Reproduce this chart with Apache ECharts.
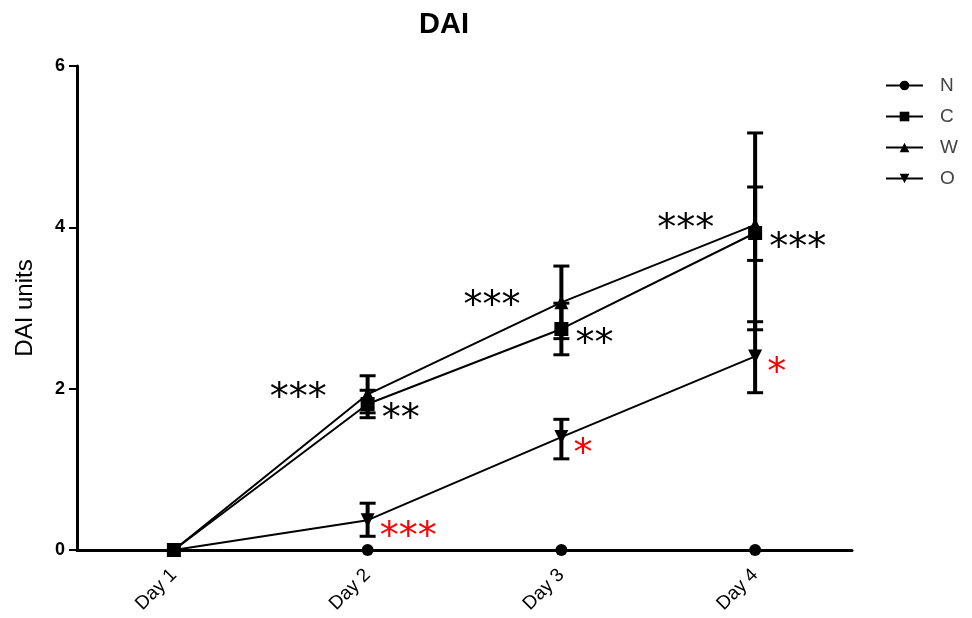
<!DOCTYPE html>
<html>
<head>
<meta charset="utf-8">
<script src="https://cdn.jsdelivr.net/npm/echarts@6/dist/echarts.min.js"></script>
<style>
html, body { margin: 0; padding: 0; background: #fff; }
#main { width: 972px; height: 618px; }
</style>
</head>
<body>
<div id="main"></div>
<script>
// categories and values
var days = ['Day 1', 'Day 2', 'Day 3', 'Day 4'];
var nMean = [0, 0, 0, 0];
var cMean = [0, 1.81, 2.74, 3.93];
var wMean = [0, 1.93, 3.07, 4.03];
var oMean = [0, 0.37, 1.40, 2.40];

// error bar ends (low / high)
var cLow = [0, 1.64, 2.42, 3.59];
var cHigh = [0, 1.98, 3.06, 4.50];
var wLow = [0, 1.70, 2.62, 2.73];
var wHigh = [0, 2.16, 3.52, 5.17];
var oLow = [0, 0.17, 1.13, 1.95];
var oHigh = [0, 0.58, 1.62, 2.83];

// significance marks
var wStars = ['', '***', '***', '***'];
var cStars = ['', '**', '**', '***'];
var oStars = ['', '***', '*', '*'];

var chart = echarts.init(document.getElementById('main'));

function errData(low, high) {
    var out = [];
    for (var i = 0; i < low.length; i++) {
        if (high[i] > low[i]) out.push([i, low[i], high[i]]);
    }
    return out;
}

function renderErr(params, api) {
    var x = api.value(0);
    var lo = api.coord([x, api.value(1)]);
    var hi = api.coord([x, api.value(2)]);
    var cap = 8;
    return {
        type: 'group',
        children: [
            { type: 'line', shape: { x1: lo[0], y1: lo[1], x2: hi[0], y2: hi[1] }, style: { stroke: '#000', lineWidth: 4 } },
            { type: 'line', shape: { x1: lo[0] - cap, y1: lo[1], x2: lo[0] + cap, y2: lo[1] }, style: { stroke: '#000', lineWidth: 3 } },
            { type: 'line', shape: { x1: hi[0] - cap, y1: hi[1], x2: hi[0] + cap, y2: hi[1] }, style: { stroke: '#000', lineWidth: 3 } }
        ]
    };
}

function starLabel(stars, pos, dist, off, color) {
    return {
        show: true,
        position: pos,
        distance: dist,
        offset: off,
        formatter: function (p) { return stars[p.dataIndex]; },
        color: color,
        fontFamily: 'DejaVu Sans',
        fontSize: 38
    };
}

function lineSeries(name, data, symbol, size, rotate, label) {
    return {
        name: name,
        type: 'line',
        data: data,
        symbol: symbol,
        symbolSize: size,
        symbolRotate: rotate,
        showSymbol: true,
        color: '#000',
        lineStyle: { color: '#000', width: 2 },
        itemStyle: { color: '#000' },
        label: label,
        z: 3
    };
}

chart.setOption({
    animation: false,
    backgroundColor: '#fff',
    title: {
        text: 'DAI',
        left: 439,
        top: 5,
        textAlign: 'center',
        textStyle: { fontFamily: 'Liberation Sans', fontWeight: 'bold', fontSize: 29, color: '#000' }
    },
    legend: {
        data: ['N', 'C', 'W', 'O'],
        orient: 'vertical',
        left: 880,
        top: 71,
        itemWidth: 37,
        itemHeight: 12,
        itemGap: 12,
        textStyle: { fontFamily: 'Liberation Sans', fontSize: 19, color: '#444', padding: [0, 0, 0, 12] }
    },
    grid: { left: 77, right: 120, top: 66, bottom: 68 },
    xAxis: {
        type: 'category',
        data: days,
        boundaryGap: true,
        axisLine: { lineStyle: { color: '#000', width: 3 } },
        axisTick: { show: false },
        axisLabel: {
            rotate: 45,
            margin: 22,
            fontFamily: 'Liberation Sans',
            fontSize: 19,
            color: '#000'
        }
    },
    yAxis: {
        type: 'value',
        min: 0,
        max: 6,
        interval: 2,
        name: 'DAI units',
        nameLocation: 'middle',
        nameGap: 40,
        nameTextStyle: { fontFamily: 'Liberation Sans', fontSize: 24, color: '#000' },
        axisLine: { show: true, lineStyle: { color: '#000', width: 3 } },
        axisTick: { show: true, length: 8, lineStyle: { color: '#000', width: 2 } },
        axisLabel: { fontFamily: 'Liberation Sans', fontWeight: 'bold', fontSize: 18, color: '#000', margin: 12 },
        splitLine: { show: false }
    },
    series: [
        lineSeries('N', nMean, 'circle', 12, 0, { show: false }),
        lineSeries('C', cMean, 'rect', 14, 0, starLabel(cStars, 'right', 7, [0, 16], '#000')),
        lineSeries('W', wMean, 'triangle', 14, 0, starLabel(wStars, 'left', 34, [0, 5], '#000')),
        lineSeries('O', oMean, 'triangle', 14, 180, starLabel(oStars, 'right', 5, [0, 18], '#f00')),
        { name: 'errC', type: 'custom', renderItem: renderErr, data: errData(cLow, cHigh), z: 4 },
        { name: 'errW', type: 'custom', renderItem: renderErr, data: errData(wLow, wHigh), z: 4 },
        { name: 'errO', type: 'custom', renderItem: renderErr, data: errData(oLow, oHigh), z: 4 }
    ]
});
</script>
</body>
</html>
